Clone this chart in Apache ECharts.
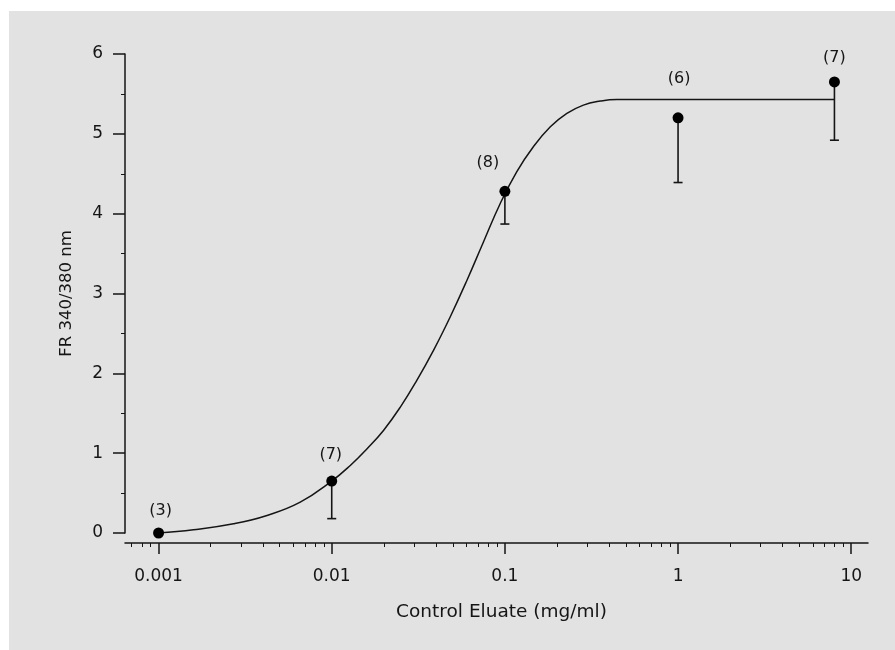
<!DOCTYPE html>
<html>
<head>
<meta charset="utf-8">
<script src="https://cdn.jsdelivr.net/npm/echarts@6/dist/echarts.min.js"></script>
<style>
  html, body { margin: 0; padding: 0; background: #ffffff; }
  #chart { position: absolute; left: 9px; top: 11px; width: 886px; height: 639px; }
</style>
</head>
<body>
<div id="chart"></div>
<script>
// measured points (concentration in mg/ml)
const concentration = [0.001, 0.01, 0.1, 1, 8];
const meanRatio = [0.0, 0.65, 4.28, 5.2, 5.65];
const lowerBar = [null, 0.18, 3.87, 4.39, 4.92];
const sampleCount = [3, 7, 8, 6, 7];

// fitted curve
const fitX = [0.001, 0.00159, 0.00271, 0.00423, 0.00658, 0.01, 0.0128, 0.016, 0.0199, 0.0249,
  0.031, 0.0387, 0.0483, 0.0604, 0.0752, 0.094, 0.117, 0.146, 0.183, 0.228,
  0.284, 0.355, 0.443, 0.528, 1, 2, 4, 8];
const fitY = [0.0, 0.04, 0.115, 0.22, 0.386, 0.65, 0.846, 1.056, 1.285, 1.577,
  1.912, 2.288, 2.706, 3.166, 3.646, 4.128, 4.524, 4.838, 5.088, 5.256,
  5.36, 5.41, 5.43, 5.43, 5.43, 5.43, 5.43, 5.43];

// axis ticks
const majorTicks = [0.001, 0.01, 0.1, 1, 10];
const minorTicks = [0.0007, 0.0008, 0.0009,
  0.002, 0.003, 0.004, 0.005, 0.006, 0.007, 0.008, 0.009,
  0.02, 0.03, 0.04, 0.05, 0.06, 0.07, 0.08, 0.09,
  0.2, 0.3, 0.4, 0.5, 0.6, 0.7, 0.8, 0.9,
  2, 3, 4, 5, 6, 7, 8, 9];

// where each "(n)" label sits relative to its dot
const labelOffsets = [[2, -22], [-1, -26], [-17, -28], [1, -39], [0, -24]];

const ink = '#151515';
const font = 'DejaVu Sans';

const chart = echarts.init(document.getElementById('chart'));

const points = concentration.map((x, i) => ({
  value: [x, meanRatio[i]],
  label: { offset: labelOffsets[i] }
}));

const bars = [];
concentration.forEach((x, i) => {
  if (lowerBar[i] !== null) bars.push([x, meanRatio[i], lowerBar[i]]);
});

const option = {
  backgroundColor: '#e2e2e2',
  animation: false,
  textStyle: { fontFamily: font, color: ink },
  grid: { left: 116, right: 27, top: 43, bottom: 117 },
  xAxis: [
    {
      type: 'log',
      logBase: 10,
      min: 0.00064,
      max: 12.5,
      position: 'bottom',
      offset: 10,
      name: 'Control Eluate (mg/ml)',
      nameLocation: 'middle',
      nameGap: 60,
      nameTextStyle: { fontFamily: font, fontSize: 18.5, color: ink, padding: [0, 0, 0, 10] },
      axisLine: { onZero: false, lineStyle: { color: ink, width: 1.5 } },
      axisTick: { customValues: majorTicks, length: 11, lineStyle: { color: ink, width: 1.5 } },
      axisLabel: {
        customValues: majorTicks,
        margin: 25,
        fontFamily: font,
        fontSize: 17,
        color: ink,
        formatter: v => String(v)
      },
      splitLine: { show: false }
    },
    {
      type: 'log',
      logBase: 10,
      min: 0.00064,
      max: 12.5,
      position: 'bottom',
      offset: 10,
      axisLine: { show: false, onZero: false },
      axisTick: { customValues: minorTicks, length: 4, lineStyle: { color: ink, width: 1 } },
      axisLabel: { show: false },
      splitLine: { show: false }
    }
  ],
  yAxis: {
    type: 'value',
    min: 0,
    max: 6,
    interval: 1,
    name: 'FR 340/380 nm',
    nameLocation: 'middle',
    nameGap: 50,
    nameTextStyle: { fontFamily: font, fontSize: 16.5, color: ink },
    axisLine: { show: true, onZero: false, lineStyle: { color: ink, width: 1.5 } },
    axisTick: { show: true, length: 12, lineStyle: { color: ink, width: 1.5 } },
    minorTick: { show: true, splitNumber: 2, length: 4, lineStyle: { color: ink, width: 1 } },
    axisLabel: { margin: 22, fontFamily: font, fontSize: 17, color: ink },
    splitLine: { show: false },
    minorSplitLine: { show: false }
  },
  series: [
    {
      type: 'line',
      data: fitX.map((x, i) => [x, fitY[i]]),
      showSymbol: false,
      smooth: 0.45,
      lineStyle: { color: ink, width: 1.5 },
      z: 2
    },
    {
      type: 'custom',
      data: bars,
      z: 3,
      renderItem: function (params, api) {
        const top = api.coord([api.value(0), api.value(1)]);
        const bot = api.coord([api.value(0), api.value(2)]);
        const style = { stroke: ink, lineWidth: 1.6 };
        return {
          type: 'group',
          children: [
            { type: 'line', shape: { x1: top[0], y1: top[1], x2: bot[0], y2: bot[1] }, style: style },
            { type: 'line', shape: { x1: bot[0] - 4.5, y1: bot[1], x2: bot[0] + 4.5, y2: bot[1] }, style: style }
          ]
        };
      }
    },
    {
      type: 'scatter',
      data: points,
      symbol: 'circle',
      symbolSize: 11,
      itemStyle: { color: '#000', opacity: 1 },
      z: 4,
      label: {
        show: true,
        position: 'inside',
        fontFamily: font,
        fontSize: 16,
        color: ink,
        textBorderWidth: 0,
        formatter: p => '(' + sampleCount[p.dataIndex] + ')'
      }
    }
  ]
};

chart.setOption(option);
</script>
</body>
</html>
